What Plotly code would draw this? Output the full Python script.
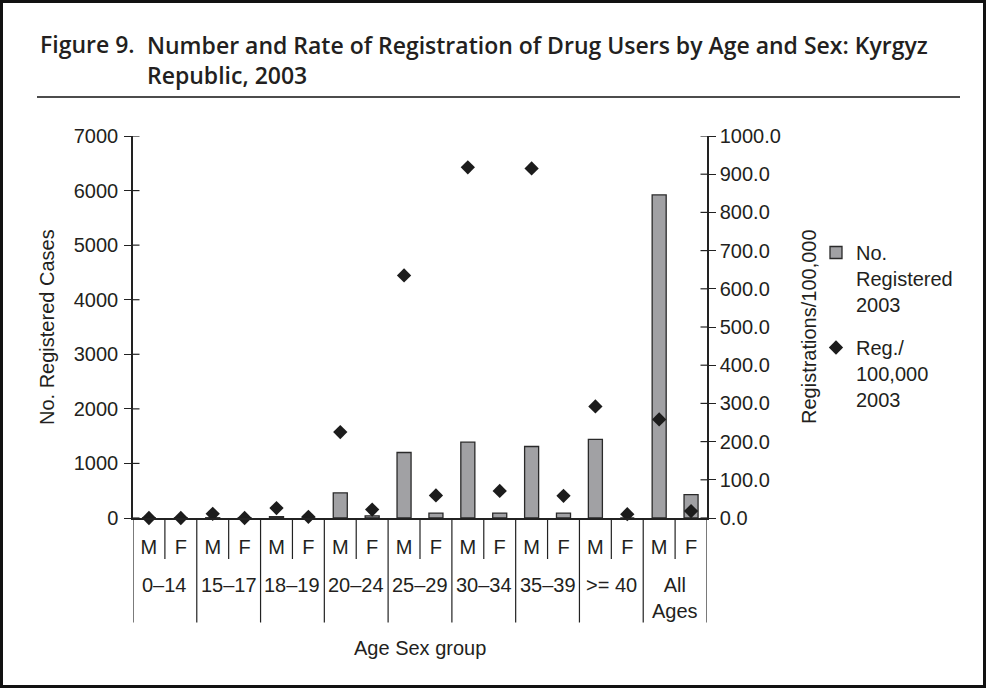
import plotly.graph_objects as go

age_groups = ["0–14", "15–17", "18–19", "20–24", "25–29", "30–34", "35–39", ">= 40", "All<br>Ages"]
sexes = ["M", "F"]
registered = [0, 0, 5, 0, 25, 0, 460, 40, 1200, 90, 1390, 90, 1310, 90, 1440, 0, 5920, 430]
rate_per_100k = [0, 0, 11, 0, 26, 3, 225, 22, 635, 59, 918, 71, 915, 58, 292, 10, 258, 18]
left_ticks = [0, 1000, 2000, 3000, 4000, 5000, 6000, 7000]
right_ticks = [0, 100, 200, 300, 400, 500, 600, 700, 800, 900, 1000]

level_sex = [s for _ in age_groups for s in sexes]
pos = list(range(len(level_sex)))          # category slots on the x axis
n_sex = len(sexes)

FONT = "Liberation Sans, Arial, sans-serif"
TFONT = "Open Sans, sans-serif"
TXT = "#231f20"
AX = "#222222"
FS = 20

W, H = 986, 688
L, R, T, B = 133, 707, 136, 518
pw, ph = R - L, B - T


def px(x):
    return (x - L) / pw


def py(y):
    return (B - y) / ph


fig = go.Figure()
fig.add_trace(go.Bar(
    x=pos, y=registered, name="No.<br>Registered<br>2003",
    marker=dict(color="#a1a1a4", line=dict(color="#2a2a2a", width=1.3)),
    legendgroup="a", yaxis="y",
))
fig.add_trace(go.Scatter(
    x=pos, y=rate_per_100k, name="Reg./<br>100,000<br>2003",
    mode="markers", marker=dict(symbol="diamond", size=11, color="#1c1c1c"),
    legendgroup="b", yaxis="y2", cliponaxis=False,
))

shapes = []
# outer frame and title rule
shapes.append(dict(type="rect", xref="paper", yref="paper",
                   x0=px(1.5), x1=px(984.5), y0=py(686.5), y1=py(1.5),
                   line=dict(color="#111", width=3), fillcolor="rgba(0,0,0,0)", layer="above"))
shapes.append(dict(type="line", xref="paper", yref="paper",
                   x0=px(37), x1=px(960), y0=py(97), y1=py(97),
                   line=dict(color="#111", width=1.5)))
# inner half of crossing ticks on both value axes
for v in left_ticks:
    shapes.append(dict(type="line", xref="paper", yref="y", x0=0, x1=px(139.5), y0=v, y1=v,
                       line=dict(color=AX, width=1.2)))
for v in right_ticks:
    shapes.append(dict(type="line", xref="paper", yref="y2", x0=px(700.5), x1=1, y0=v, y1=v,
                       line=dict(color=AX, width=1.2)))
# category separators: short between M/F, long between age groups
for g in range(len(age_groups) + 1):
    xb = g * n_sex - 0.5
    shapes.append(dict(type="line", xref="x", yref="paper", x0=xb, x1=xb, y0=0, y1=py(622.5),
                       line=dict(color=AX, width=1.2)))
    if g < len(age_groups):
        xs = g * n_sex + 0.5
        shapes.append(dict(type="line", xref="x", yref="paper", x0=xs, x1=xs, y0=0, y1=py(559),
                           line=dict(color=AX, width=1.2)))

annotations = [
    dict(text="Figure 9.", xref="paper", yref="paper", x=px(38), y=py(44),
         xanchor="left", yanchor="middle", showarrow=False,
         font=dict(family=TFONT, size=23, color=TXT, weight=600)),
    dict(text="Number and Rate of Registration of Drug Users by Age and Sex: Kyrgyz<br>Republic, 2003",
         xref="paper", yref="paper", x=px(145), y=py(60), align="left",
         xanchor="left", yanchor="middle", showarrow=False,
         font=dict(family=TFONT, size=23, color=TXT, weight=600)),
    dict(text="No. Registered Cases", xref="paper", yref="paper", x=px(47), y=0.5,
         textangle=-90, xanchor="center", yanchor="middle", showarrow=False,
         font=dict(family=FONT, size=FS, color=TXT)),
    dict(text="Registrations/100,000", xref="paper", yref="paper", x=px(809), y=0.5,
         textangle=-90, xanchor="center", yanchor="middle", showarrow=False,
         font=dict(family=FONT, size=FS, color=TXT)),
    dict(text="Age Sex group", xref="paper", yref="paper", x=0.5, y=py(648),
         xanchor="center", yanchor="middle", showarrow=False,
         font=dict(family=FONT, size=FS, color=TXT)),
]
for g, name in enumerate(age_groups):
    annotations.append(dict(text=name, xref="x", yref="paper", x=g * n_sex + 0.5, y=py(572),
                            xanchor="center", yanchor="top", showarrow=False,
                            font=dict(family=FONT, size=FS, color=TXT)))

fig.update_layout(
    width=W, height=H,
    margin=dict(l=L, r=W - R, t=T, b=H - B, autoexpand=False),
    paper_bgcolor="white", plot_bgcolor="white",
    font=dict(family=FONT, size=FS, color=TXT),
    bargap=0.56,
    showlegend=True,
    legend=dict(x=px(816), y=py(233), xanchor="left", yanchor="top", valign="top",
                font=dict(size=FS, family=FONT, color=TXT),
                tracegroupgap=14, bgcolor="rgba(0,0,0,0)"),
    xaxis=dict(
        range=[-0.5, len(pos) - 0.5], showline=True, linecolor=AX, linewidth=1.5,
        tickmode="array", tickvals=pos, ticktext=level_sex, ticks="",
        ticklabelstandoff=10, showgrid=False, zeroline=False, automargin=False,
        tickfont=dict(size=FS, family=FONT, color=TXT),
    ),
    yaxis=dict(
        range=[0, 7000], tickmode="array", tickvals=left_ticks, showline=True, linecolor=AX, linewidth=1.5,
        ticks="outside", ticklen=7, tickcolor=AX, tickwidth=1.2, showgrid=False, zeroline=False,
        ticklabelstandoff=2, automargin=False,
        tickfont=dict(size=FS, family=FONT, color=TXT),
    ),
    yaxis2=dict(
        range=[0, 1000], tickmode="array", tickvals=right_ticks, tickformat=".1f",
        overlaying="y", side="right",
        showline=True, linecolor=AX, linewidth=1.5,
        ticks="outside", ticklen=7, tickcolor=AX, tickwidth=1.2, showgrid=False, zeroline=False,
        ticklabelstandoff=0, automargin=False,
        tickfont=dict(size=FS, family=FONT, color=TXT),
    ),
    shapes=shapes,
    annotations=annotations,
)

fig.write_html("out.html", config={"displayModeBar": False},
               post_script="document.body.style.margin='0';document.body.style.overflow='hidden';")
